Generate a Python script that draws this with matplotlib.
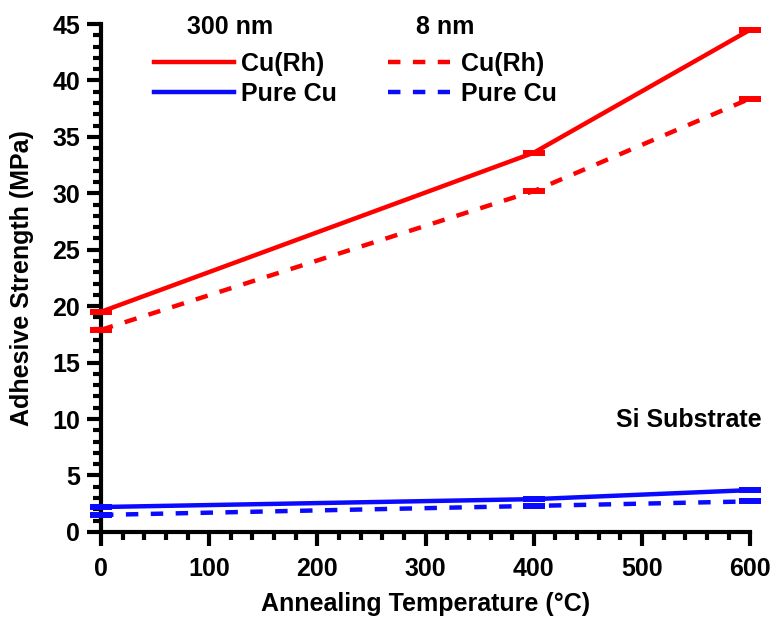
import matplotlib.pyplot as plt
from matplotlib.lines import Line2D
from matplotlib.ticker import MultipleLocator

plt.rcParams['font.family'] = ['Liberation Sans', 'DejaVu Sans']
plt.rcParams['font.weight'] = 'bold'

# data
temps = [0, 400, 600]
curh_300 = [19.5, 33.6, 44.5]
curh_8 = [17.9, 30.2, 38.4]
pure_300 = [2.2, 2.9, 3.7]
pure_8 = [1.5, 2.3, 2.7]

RED = '#ff0000'
BLUE = '#0a0aff'
LW = 3.2
DASH = (2.8, 2.8)
FS = 18

fig = plt.figure(figsize=(7.71, 6.17), dpi=100)
ax = fig.add_axes([0.131, 0.138, 0.842, 0.823])

series = [
    (curh_300, RED, '-'),
    (curh_8, RED, '--'),
    (pure_300, BLUE, '-'),
    (pure_8, BLUE, '--'),
]
for vals, col, ls in series:
    line, = ax.plot(temps, vals, color=col, lw=LW, ls=ls,
                    marker='_', markersize=16, markeredgewidth=4.3,
                    clip_on=False, zorder=3)
    if ls == '--':
        line.set_dashes(DASH)

ax.set_xlim(0, 600)
ax.set_ylim(0, 45)
ax.xaxis.set_major_locator(MultipleLocator(100))
ax.xaxis.set_minor_locator(MultipleLocator(20))
ax.yaxis.set_major_locator(MultipleLocator(5))
ax.yaxis.set_minor_locator(MultipleLocator(1))

for side in ['top', 'right']:
    ax.spines[side].set_visible(False)
for side in ['left', 'bottom']:
    ax.spines[side].set_linewidth(3)

ax.tick_params(which='major', length=10, width=3, labelsize=FS)
ax.tick_params(axis='x', which='major', pad=8)
ax.tick_params(axis='y', which='major', pad=5)
ax.tick_params(which='minor', length=6, width=3)
for lab in ax.get_xticklabels() + ax.get_yticklabels():
    lab.set_fontweight('bold')

ax.set_xlabel('Annealing Temperature (°C)', fontsize=FS, fontweight='bold', labelpad=8)
ax.set_ylabel('Adhesive Strength (MPa)', fontsize=FS, fontweight='bold', labelpad=13)

# legends
h300 = [Line2D([], [], color=RED, lw=LW), Line2D([], [], color=BLUE, lw=LW)]
h8 = [Line2D([], [], color=RED, lw=LW, dashes=DASH),
      Line2D([], [], color=BLUE, lw=LW, dashes=DASH)]
names = ['Cu(Rh)', 'Pure Cu']

leg1 = ax.legend(h300, names, frameon=False, fontsize=FS,
                 handlelength=3.2, handletextpad=0.28, labelspacing=0.26,
                 borderpad=0, borderaxespad=0,
                 loc='center left', bbox_to_anchor=(0.082, 0.892))
ax.add_artist(leg1)
leg2 = ax.legend(h8, names, frameon=False, fontsize=FS,
                 handlelength=2.5, handletextpad=0.44, labelspacing=0.26,
                 borderpad=0, borderaxespad=0,
                 loc='center left', bbox_to_anchor=(0.442, 0.892))
for leg in (leg1, leg2):
    for t in leg.get_texts():
        t.set_fontweight('bold')

ax.text(0.199, 0.994, '300 nm', transform=ax.transAxes, ha='center',
        va='center', fontsize=FS, fontweight='bold')
ax.text(0.530, 0.994, '8 nm', transform=ax.transAxes, ha='center',
        va='center', fontsize=FS, fontweight='bold')
ax.text(1.018, 0.22, 'Si Substrate', transform=ax.transAxes, ha='right',
        va='center', fontsize=FS, fontweight='bold')

fig.savefig('out.png', dpi=100)
